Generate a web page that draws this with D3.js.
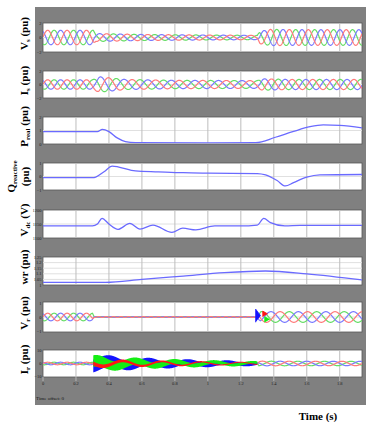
<!DOCTYPE html>
<html>
<head>
<meta charset="utf-8">
<script src="https://cdn.jsdelivr.net/npm/d3@7"></script>
<style>
  body { margin: 0; background: #fff; }
  svg text { font-family: "Liberation Serif", "DejaVu Serif", serif; }
</style>
</head>
<body>
<div id="chart"></div>
<script>
// ---- data ----
const timeTicks = [0, 0.2, 0.4, 0.6, 0.8, 1, 1.2, 1.4, 1.6, 1.8];
const tEnd = 1.935;

// three-phase envelopes [time, amplitude] and frequency segments [from, Hz]
const vsEnvelope = [[0, 1.0], [0.305, 1.0], [0.32, 0.55], [0.6, 0.42], [1.0, 0.34], [1.3, 0.3], [1.315, 0.85], [1.38, 1.12], [1.6, 1.08], [tEnd, 1.08]];
const vsFreq = [[0, 8.5], [0.305, 8], [1.305, 8.7]];

const isEnvelope = [[0, 0.7], [0.3, 0.7], [0.34, 1.15], [0.4, 1.0], [0.5, 0.75], [0.8, 0.62], [1.3, 0.58], [1.33, 0.85], [1.5, 0.75], [tEnd, 0.75]];
const isFreq = [[0, 8.5], [0.305, 7], [1.305, 8]];

const pRealTime = [0, 0.33, 0.36, 0.40, 0.45, 0.50, 0.56, 1.0, 1.29, 1.41, 1.515, 1.62, 1.70, 1.80, tEnd];
const pRealValue = [0.91, 0.91, 1.08, 0.92, 0.45, 0.18, 0.1, 0.09, 0.1, 0.5, 0.91, 1.28, 1.41, 1.38, 1.2];

const qTime = [0, 0.30, 0.32, 0.37, 0.42, 0.46, 0.56, 0.70, 0.85, 1.0, 1.30, 1.35, 1.42, 1.47, 1.52, 1.60, 1.68, tEnd];
const qValue = [-0.08, -0.08, -0.04, 0.35, 0.77, 0.70, 0.42, 0.35, 0.28, 0.25, 0.22, 0.12, -0.3, -0.7, -0.45, -0.05, 0.12, 0.15];

const vdcTime = [0, 0.30, 0.33, 0.358, 0.40, 0.455, 0.527, 0.588, 0.667, 0.782, 0.848, 0.927, 1.042, 1.194, 1.30, 1.339, 1.38, 1.467, 1.56, tEnd];
const vdcValue = [1143, 1143, 1150, 1170, 1150, 1131, 1152, 1132, 1146, 1120, 1135, 1129, 1143, 1143, 1146, 1170, 1155, 1143, 1145, 1145];

const wrTime = [0, 0.38, 0.6, 0.85, 1.1, 1.35, 1.6, tEnd];
const wrValue = [1.024, 1.024, 1.05, 1.08, 1.11, 1.125, 1.1, 1.045];

const vrEnvelope = [[0, 0.27], [0.3, 0.27], [0.31, 0.03], [1.3, 0.03], [1.32, 0.38], [tEnd, 0.38]];
const vrFreq = [[0, 8.5], [0.31, 22], [1.3, 6]];
// short bursts at fault clearing
const vrBurstPhase = ["b", "r", "g"];
const vrBurstTime = [1.29, 1.333, 1.345];
const vrBurstLow = [-0.38, 0.02, -0.38];
const vrBurstHigh = [0.56, 0.42, 0.02];

const irEnvelope = [[0, 1.0], [0.3, 1.0], [0.305, 0], [1.3, 0], [1.31, 1.8], [tEnd, 1.7]];
const irFreq = [[0, 8.5], [1.3, 6.2]];
// during the fault the rotor current is a dense band around a slow swing
const irSwing = [[0.305, 2.2], [0.5, 2.0], [0.8, 1.6], [1.0, 1.3], [1.3, 0.9]];
const irSpread = [[0.305, 5], [0.36, 4.8], [0.45, 3.8], [0.6, 2.8], [0.8, 2.1], [1.0, 1.6], [1.3, 1.1]];
const irSwingFreq = 4.2;
const irSpreadShare = { b: 1, g: 0.9, r: 0.3 };

// ---- layout ----
const W = 366, H = 422;
const plotLeft = 43, plotRight = 362;
const phaseColor = { r: "#ff7a7a", g: "#66dd66", b: "#7a7aff" };
const bandColor = { r: "#ff1414", g: "#14ee14", b: "#1414ff" };
const traceColor = "#6a6aff";

const panels = [
  { key: "vs", top: 23, bottom: 52, domain: [-2, 2], ticks: [-2, 0, 2], label: [["V", 0], ["s", 1], [" (pu)", 0]] },
  { key: "is", top: 71, bottom: 98, domain: [-2, 2], ticks: [-2, 0, 2], label: [["I", 0], ["s", 1], [" (pu)", 0]] },
  { key: "p", top: 117, bottom: 144, domain: [0, 2], ticks: [0, 1, 2], label: [["P", 0], ["real", 1], [" (pu)", 0]] },
  { key: "q", top: 163, bottom: 190, domain: [-1, 1], ticks: [-1, 0, 1], label: null },
  { key: "vdc", top: 210, bottom: 238, domain: [1100, 1200], ticks: [1100, 1150, 1200], label: [["V", 0], ["dc", 1], [" (V)", 0]] },
  { key: "wr", top: 257, bottom: 285, domain: [1.0, 1.25], ticks: [1.0, 1.05, 1.1, 1.15, 1.2, 1.25], label: [["wr (pu)", 0]] },
  { key: "vr", top: 302, bottom: 332, domain: [-1.07, 1.07], ticks: [-1, 0, 1], label: [["V", 0], ["r", 1], [" (pu)", 0]] },
  { key: "ir", top: 350, bottom: 377, domain: [-10.5, 10.5], ticks: [-10, 0, 10], label: [["I", 0], ["r", 1], [" (pu)", 0]] }
];

const svg = d3.select("#chart").append("svg")
  .attr("width", W).attr("height", H);

const x = d3.scaleLinear().domain([0, tEnd]).range([plotLeft, plotRight]);

// scope background
svg.append("rect").attr("x", 35).attr("y", 7).attr("width", W - 35).attr("height", 398).attr("fill", "#808080");

const ys = {};
panels.forEach(p => {
  const y = d3.scaleLinear().domain(p.domain).range([p.bottom, p.top]);
  ys[p.key] = y;
  const g = svg.append("g");
  g.append("rect")
    .attr("x", plotLeft).attr("y", p.top)
    .attr("width", plotRight - plotLeft).attr("height", p.bottom - p.top)
    .attr("fill", "#fff").attr("stroke", "#555").attr("stroke-width", 0.8);
  // grid
  g.selectAll(".hg").data(p.ticks.slice(1, -1)).enter().append("line")
    .attr("x1", plotLeft).attr("x2", plotRight)
    .attr("y1", d => y(d)).attr("y2", d => y(d))
    .attr("stroke", "#e0e0e0").attr("stroke-width", 1);
  g.selectAll(".vg").data(timeTicks.slice(1)).enter().append("line")
    .attr("x1", d => x(d)).attr("x2", d => x(d))
    .attr("y1", p.top).attr("y2", p.bottom)
    .attr("stroke", "#bdbdbd").attr("stroke-width", 1);
  // y tick labels
  g.selectAll(".yt").data(p.ticks).enter().append("text")
    .attr("x", plotLeft - 1.5).attr("y", d => y(d) + 1.6)
    .attr("text-anchor", "end").attr("font-size", 4.5).attr("fill", "#222")
    .text(d => d3.format("~g")(d));
  // clip for traces
  svg.append("clipPath").attr("id", "clip-" + p.key)
    .append("rect").attr("x", plotLeft).attr("y", p.top + 0.5)
    .attr("width", plotRight - plotLeft).attr("height", p.bottom - p.top - 1);

  const cy = (p.top + p.bottom) / 2 - 4;
  if (p.label) {
    const t = svg.append("text")
      .attr("transform", `translate(28,${cy}) rotate(-90)`)
      .attr("text-anchor", "middle").attr("font-weight", "bold").attr("font-size", 11).attr("fill", "#000");
    p.label.forEach(([s, sub]) => {
      const ts = t.append("tspan").text(s);
      if (sub) ts.attr("font-size", 7).attr("dy", 2);
      else if (s !== p.label[0][0]) ts.attr("dy", -2);
    });
  }
});

// Q label on two lines
const qPanel = panels.find(p => p.key === "q");
const qc = (qPanel.top + qPanel.bottom) / 2;
const qt = svg.append("text").attr("transform", `translate(15,${qc}) rotate(-90)`)
  .attr("text-anchor", "middle").attr("font-weight", "bold").attr("font-size", 11);
qt.append("tspan").text("Q");
qt.append("tspan").text("reactive").attr("font-size", 7).attr("dy", 2);
svg.append("text").attr("transform", `translate(29,${qc}) rotate(-90)`)
  .attr("text-anchor", "middle").attr("font-weight", "bold").attr("font-size", 11).text("(pu)");

// x axis below the last panel
const last = panels[panels.length - 1];
svg.selectAll(".xt").data(timeTicks).enter().append("line")
  .attr("x1", d => x(d)).attr("x2", d => x(d))
  .attr("y1", last.bottom).attr("y2", last.bottom + 4)
  .attr("stroke", "#b5b5b5");
svg.selectAll(".xl").data(timeTicks).enter().append("text")
  .attr("x", d => x(d)).attr("y", last.bottom + 8)
  .attr("text-anchor", "middle").attr("font-size", 4.5).attr("fill", "#222")
  .text(d => d3.format("~g")(d));
svg.append("text").attr("x", 36).attr("y", 400).attr("font-size", 5).attr("fill", "#111").text("Time offset: 0");
svg.append("text").attr("x", 318).attr("y", 420).attr("text-anchor", "middle")
  .attr("font-weight", "bold").attr("font-size", 11).text("Time (s)");

// ---- traces ----
const dt = 0.001;
function threePhase(env, freqs) {
  const amp = d3.scaleLinear().domain(env.map(d => d[0])).range(env.map(d => d[1])).clamp(true);
  const pts = [];
  let ph = 0;
  for (let i = 0; i * dt <= tEnd + 1e-9; i++) {
    const t = i * dt;
    const f = freqs.filter(d => d[0] <= t).pop()[1];
    ph += 2 * Math.PI * f * dt;
    const A = amp(t);
    pts.push({ t, r: A * Math.sin(ph), g: A * Math.sin(ph - 2 * Math.PI / 3), b: A * Math.sin(ph + 2 * Math.PI / 3) });
  }
  return pts;
}

function drawPhases(key, pts) {
  const y = ys[key];
  const g = svg.append("g").attr("clip-path", `url(#clip-${key})`);
  ["g", "b", "r"].forEach(ph => {
    g.append("path").datum(pts)
      .attr("d", d3.line().x(d => x(d.t)).y(d => y(d[ph])))
      .attr("fill", "none").attr("stroke", phaseColor[ph]).attr("stroke-width", 1.2);
  });
  return g;
}

function drawTrace(key, times, values) {
  const y = ys[key];
  svg.append("g").attr("clip-path", `url(#clip-${key})`)
    .append("path").datum(d3.zip(times, values))
    .attr("d", d3.line().x(d => x(d[0])).y(d => y(d[1])).curve(d3.curveMonotoneX))
    .attr("fill", "none").attr("stroke", traceColor).attr("stroke-width", 1.3);
}

drawPhases("vs", threePhase(vsEnvelope, vsFreq));
drawPhases("is", threePhase(isEnvelope, isFreq));
drawTrace("p", pRealTime, pRealValue);
drawTrace("q", qTime, qValue);
drawTrace("vdc", vdcTime, vdcValue);
drawTrace("wr", wrTime, wrValue);

// rotor voltage with clearing bursts
const vrG = drawPhases("vr", threePhase(vrEnvelope, vrFreq));
vrBurstPhase.forEach((ph, i) => {
  const y = ys.vr;
  const t0 = vrBurstTime[i];
  const mid = (vrBurstLow[i] + vrBurstHigh[i]) / 2;
  const tri = [[t0, vrBurstLow[i]], [t0, vrBurstHigh[i]], [t0 + 0.03, mid]];
  vrG.append("path").datum(tri)
    .attr("d", d3.line().x(d => x(d[0])).y(d => y(d[1])))
    .attr("fill", bandColor[ph]).attr("stroke", bandColor[ph]).attr("stroke-width", 0.8);
});

// rotor current: pre/post sine plus fault band
const irG = drawPhases("ir", threePhase(irEnvelope, irFreq));
const swing = d3.scaleLinear().domain(irSwing.map(d => d[0])).range(irSwing.map(d => d[1]));
const spread = d3.scaleLinear().domain(irSpread.map(d => d[0])).range(irSpread.map(d => d[1]));
const shift = { r: 0, g: -2 * Math.PI / 3, b: 2 * Math.PI / 3 };
const bandPts = [];
for (let t = irSwing[0][0]; t <= 1.3; t += dt) bandPts.push(t);
["b", "g", "r"].forEach(ph => {
  const y = ys.ir;
  const c = t => swing(t) * Math.sin(2 * Math.PI * irSwingFreq * (t - 0.305) + shift[ph] + Math.PI);
  irG.append("path").datum(bandPts)
    .attr("d", d3.area().x(t => x(t))
      .y0(t => y(c(t) - spread(t) * irSpreadShare[ph]))
      .y1(t => y(c(t) + spread(t) * irSpreadShare[ph])))
    .attr("fill", bandColor[ph]);
});
</script>
</body>
</html>
